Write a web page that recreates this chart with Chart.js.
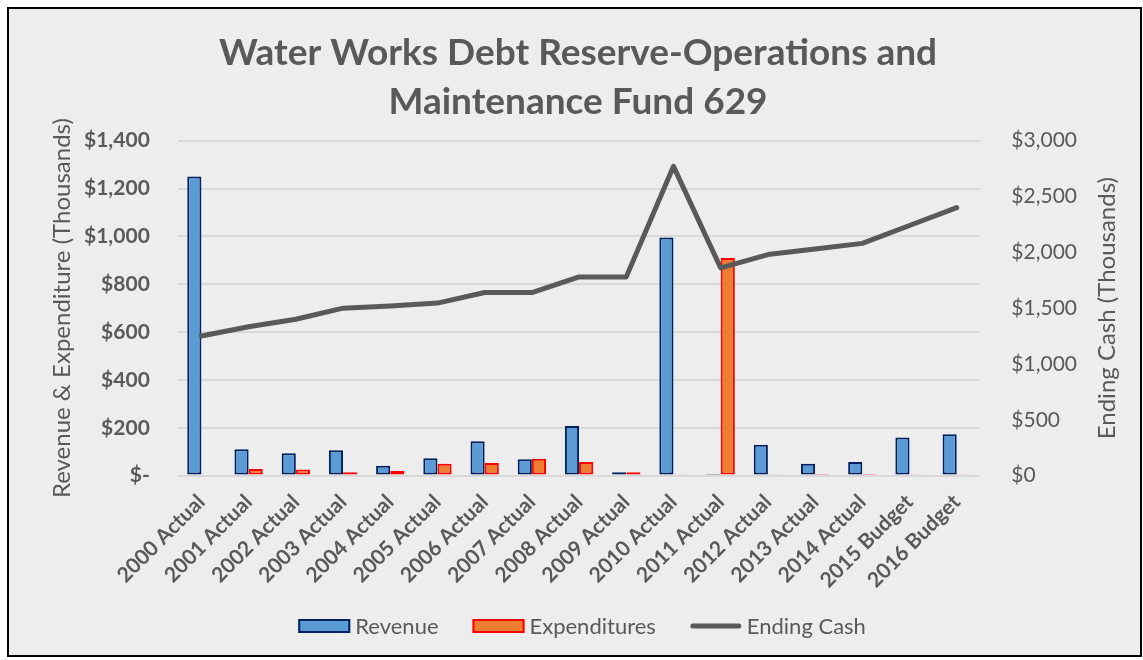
<!DOCTYPE html>
<html>
<head>
<meta charset="utf-8">
<script src="https://cdn.jsdelivr.net/npm/chart.js@4"></script>
<style>
  html, body { margin: 0; padding: 0; background: #fff; }
  #wrap {
    position: absolute; left: 7px; top: 7px;
    width: 1131px; height: 646px;
    border: 2px solid #000; background: #ededed;
  }
</style>
</head>
<body>
<div id="wrap"><canvas id="chart"></canvas></div>
<script>
const categories = [
  '2000 Actual', '2001 Actual', '2002 Actual', '2003 Actual', '2004 Actual',
  '2005 Actual', '2006 Actual', '2007 Actual', '2008 Actual', '2009 Actual',
  '2010 Actual', '2011 Actual', '2012 Actual', '2013 Actual', '2014 Actual',
  '2015 Budget', '2016 Budget'
];
// thousands of dollars
const revenue = [1250, 110, 93, 106, 41, 73, 144, 68, 207, 14, 995, 2, 129, 50, 57, 159, 173];
const expenditures = [0, 28, 25, 14, 20, 49, 53, 70, 57, 14, 3, 910, 3, 2, 2, 3, 4];
const endingCash = [1250, 1333, 1400, 1500, 1520, 1545, 1640, 1640, 1780, 1780, 2770, 1860, 1980, 2030, 2080, 2240, 2400];

const grey = '#595959';
const fontFamily = 'Lato, "Open Sans", sans-serif';

// both axis titles read bottom-to-top; drawn by hand so they sit close to the tick labels
const axisTitles = {
  id: 'axisTitles',
  afterDraw(chart) {
    const ctx = chart.ctx;
    const midY = (chart.chartArea.top + chart.chartArea.bottom) / 2;
    const draw = (text, x) => {
      ctx.save();
      ctx.fillStyle = grey;
      ctx.font = '24px ' + fontFamily;
      ctx.textAlign = 'center';
      ctx.textBaseline = 'middle';
      ctx.translate(x, midY);
      ctx.rotate(-Math.PI / 2);
      ctx.fillText(text, 0, 0);
      ctx.restore();
    };
    draw('Revenue & Expenditure (Thousands)', chart.scales.y.left + 6);
    draw('Ending Cash (Thousands)', chart.scales.y1.right + 7);
  }
};

// legend under the plot, centred on the plot area; bars get a box, the line a short stroke
const bottomLegend = {
  id: 'bottomLegend',
  afterDraw(chart) {
    const ctx = chart.ctx;
    const boxW = 52, boxH = 14, gap = 5, spacing = 34;
    const y = chart.height - 29;
    ctx.save();
    ctx.font = '22px ' + fontFamily;
    ctx.textBaseline = 'middle';
    const items = chart.data.datasets.map(ds => ({ ds, w: boxW + gap + ctx.measureText(ds.label).width }));
    const total = items.reduce((s, it) => s + it.w, 0) + spacing * (items.length - 1);
    let x = (chart.chartArea.left + chart.chartArea.right) / 2 - total / 2 + 3;
    items.forEach(({ ds, w }) => {
      if (ds.type === 'line') {
        ctx.strokeStyle = ds.borderColor;
        ctx.lineWidth = ds.borderWidth;
        ctx.lineCap = 'round';
        ctx.beginPath();
        ctx.moveTo(x + 3, y);
        ctx.lineTo(x + boxW - 3, y);
        ctx.stroke();
      } else {
        ctx.fillStyle = ds.backgroundColor;
        ctx.fillRect(x, y - boxH / 2, boxW, boxH);
        ctx.strokeStyle = ds.borderColor;
        ctx.lineWidth = ds.borderWidth;
        ctx.strokeRect(x + 1, y - boxH / 2 + 1, boxW - 2, boxH - 2);
      }
      ctx.fillStyle = grey;
      ctx.fillText(ds.label, x + boxW + gap, y + 1);
      x += w + spacing;
    });
    ctx.restore();
  }
};

new Chart(document.getElementById('chart'), {
  data: {
    labels: categories,
    datasets: [
      {
        type: 'bar',
        label: 'Revenue',
        data: revenue,
        backgroundColor: '#5b9bd5',
        borderColor: '#002060',
        borderWidth: 2,
        borderSkipped: false,
        yAxisID: 'y',
        categoryPercentage: 0.6,
        barPercentage: 1
      },
      {
        type: 'bar',
        label: 'Expenditures',
        data: expenditures,
        backgroundColor: '#ed7d31',
        borderColor: '#ff0000',
        borderWidth: 2,
        borderSkipped: false,
        yAxisID: 'y',
        categoryPercentage: 0.6,
        barPercentage: 1
      },
      {
        type: 'line',
        label: 'Ending Cash',
        data: endingCash,
        borderColor: grey,
        backgroundColor: grey,
        borderWidth: 5,
        borderCapStyle: 'round',
        borderJoinStyle: 'round',
        pointRadius: 0,
        tension: 0,
        order: -1,
        yAxisID: 'y1'
      }
    ]
  },
  options: {
    responsive: true,
    maintainAspectRatio: false,
    animation: false,
    layout: { padding: { left: 47, right: 40, top: 0, bottom: 56 } },
    plugins: {
      tooltip: { enabled: false },
      legend: { display: false },
      title: {
        display: true,
        text: ['Water Works Debt Reserve-Operations and', 'Maintenance Fund 629'],
        color: grey,
        font: { family: fontFamily, size: 37, weight: 'bold', lineHeight: 1.32 },
        padding: { top: 20, bottom: 14 }
      }
    },
    scales: {
      x: {
        grid: { display: false },
        border: { display: false },
        ticks: {
          color: grey,
          padding: 6,
          minRotation: 45,
          maxRotation: 45,
          font: { family: fontFamily, size: 21, weight: 'bold' }
        }
      },
      y: {
        position: 'left',
        min: 0,
        max: 1400,
        border: { display: false },
        grid: { color: '#d9d9d9', lineWidth: 2, drawTicks: false },
        ticks: {
          stepSize: 200,
          padding: 28,
          color: grey,
          font: { family: fontFamily, size: 21, weight: 'bold' },
          callback: v => v === 0 ? '$-' : '$' + v.toLocaleString('en-US')
        }
      },
      y1: {
        position: 'right',
        min: 0,
        max: 3000,
        border: { display: false },
        grid: { display: false },
        ticks: {
          stepSize: 500,
          padding: 23,
          color: grey,
          font: { family: fontFamily, size: 21 },
          callback: v => '$' + v.toLocaleString('en-US')
        }
      }
    }
  },
  plugins: [axisTitles, bottomLegend]
});
</script>
</body>
</html>
